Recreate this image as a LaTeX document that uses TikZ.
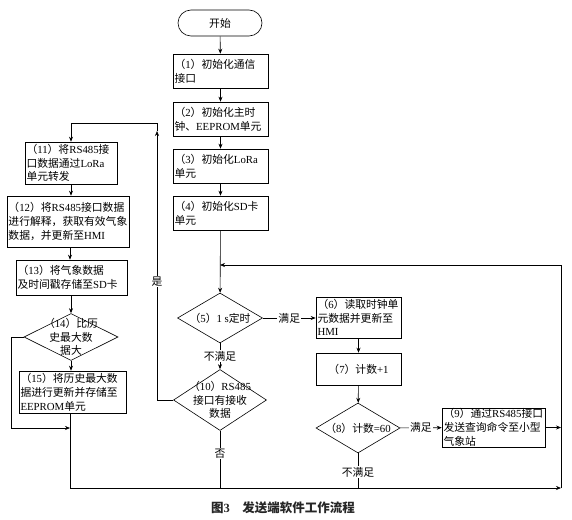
\documentclass[tikz,border=0pt]{standalone}
\usepackage{fontspec}
\setmainfont{Noto Sans CJK SC}
\newfontfamily\lat{Liberation Serif}
\newcommand\en[1]{{\lat #1}}
\usetikzlibrary{shapes.geometric,arrows.meta,positioning}

\begin{document}
\begin{tikzpicture}[x=1pt,y=-1pt,>={Stealth[length=5pt,width=4pt]},
  font=\fontsize{10.8}{13.8}\selectfont,line width=0.6pt,
  term/.style={draw,rectangle,rounded corners=13pt,minimum width=84pt,minimum height=26pt},
  proc/.style 2 args={draw,rectangle,inner xsep=1.5pt,inner ysep=0pt,align=left,
    text width=#1,minimum height=#2},
  dec/.style 2 args={draw,diamond,inner sep=0pt,minimum width=#1,minimum height=#2},
  lab/.style={fill=white,inner sep=1pt}]
  \useasboundingbox (0,0) rectangle (572,519);
  % main column
  \node[term] (n0) at (220,23) {开始};
  \node[proc={92pt}{34pt}] (n1) at (220.5,71) {（\en{1}）初始化通信\\接口};
  \node[proc={92pt}{34pt}] (n2) at (220.5,119) {（\en{2}）初始化主时\\钟、\en{EEPROM}单元};
  \node[proc={92pt}{34pt}] (n3) at (220.5,166) {（\en{3}）初始化\en{LoRa}\\单元};
  \node[proc={92pt}{34pt}] (n4) at (220.5,213) {（\en{4}）初始化\en{SD}卡\\单元};
  \node[dec={85pt}{50pt},label={center:（\en{5}）\en{1 s}定时}] (n5) at (220,318) {};
  \node[dec={93pt}{61pt},label={[align=center]center:（\en{10}）\en{RS485}\\接口有接收\\数据}] (n10) at (220,400) {};
  % right column
  \node[proc={82pt}{41pt}] (n6) at (358.5,317.5) {（\en{6}）读取时钟单\\元数据并更新至\\\en{HMI}};
  \node[proc={82pt}{32pt},align=center] (n7) at (358.5,369) {（\en{7}）计数\en{+1}};
  \node[dec={84pt}{50pt},label={center:（\en{8}）计数\en{=60}}] (n8) at (358,428) {};
  \node[proc={100pt}{39pt}] (n9) at (493.5,427.5) {（\en{9}）通过\en{RS485}接口\\发送查询命令至小型\\气象站};
  % left column
  \node[proc={89pt}{42pt}] (n11) at (71,163) {（\en{11}）将\en{RS485}接\\口数据通过\en{LoRa}\\单元转发};
  \node[proc={119pt}{51pt}] (n12) at (68,221.5) {（\en{12}）将\en{RS485}接口数据\\进行解释，获取有效气象\\数据，并更新至\en{HMI}};
  \node[proc={108pt}{35pt}] (n13) at (71.5,277.5) {（\en{13}）将气象数据\\及时间戳存储至\en{SD}卡};
  \node[dec={94pt}{47pt},label={[align=center]center:（\en{14}）比历\\史最大数\\据大}] (n14) at (71,337) {};
  \node[proc={104pt}{42pt}] (n15) at (72.5,392) {（\en{15}）将历史最大数\\据进行更新并存储至\\\en{EEPROM}单元};
  \node[font=\fontsize{12.5}{14}\selectfont\bfseries,text=black!85] (cap) at (283,508) {图\en{3}\quad 发送端软件工作流程};
  % joints
  \coordinate (jn) at (220,265);
  \coordinate (rt) at (561,488);
  \coordinate (lf) at (70,488);
  \coordinate (yes) at (157,123);
  \coordinate (jl) at (70,428);

  \path[->] (n0) edge (n1) (n1) edge (n2) (n2) edge (n3) (n3) edge (n4);
  \draw[->] (n4) -- (n5);
  \draw[->] (rt) -- (rt |- jn) -- (jn);
  \draw[->] (n5.east) -- node[lab] {满足} (n5.east -| n6.west);
  \draw[->] (n5) -- node[lab] {不满足} (n10);
  \path[->] (n6) edge (n7) (n7) edge (n8);
  \draw[->] (n8) -- node[lab] {满足} (n9);
  \draw[->] (n9) -- (n9 -| rt);
  \draw (n8) -- node[lab,pos=0.55] {不满足} (n8 |- rt);
  \draw (n10) -- node[lab,pos=0.4] {否} (n10 |- rt);
  \draw[->] (n10.west) -| node[lab,pos=0.72] {是} ([yshift=-8pt]yes);
  \draw[->] ([yshift=-8pt]yes) -- (yes) -| (n11);
  \draw[->] (n11.south) -- (n11.south |- n12.north);
  \draw[->] (n12.south -| lf) -- (lf |- n13.north);
  \draw[->] (n14.north |- n13.south) -- (n14.north);
  \draw[->] (n14.south) -- (n14.south |- n15.north);
  \draw[->] (n14.west) -- ++(-12,0) |- (jl);
  \draw[->] (n15.south -| jl) -- (lf) -- (rt);
\end{tikzpicture}
\end{document}
